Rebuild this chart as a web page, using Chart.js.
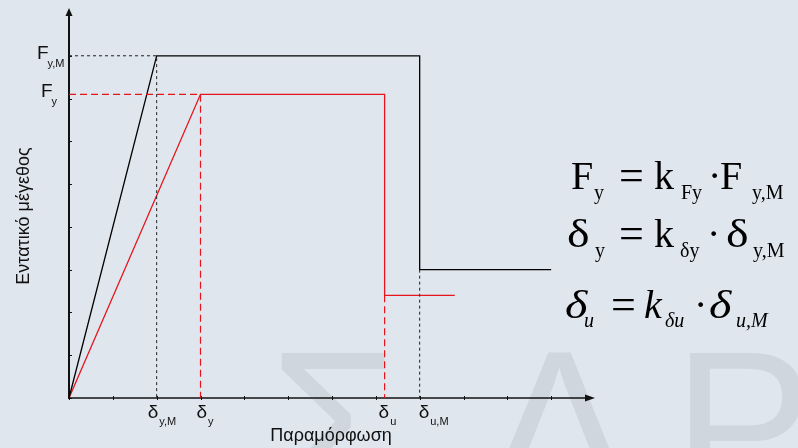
<!DOCTYPE html>
<html>
<head>
<meta charset="utf-8">
<script src="https://cdn.jsdelivr.net/npm/chart.js@4/dist/chart.umd.min.js"></script>
<style>
  html, body { margin: 0; padding: 0; background: #dfe6ed; }
  #wrap { width: 798px; height: 448px; }
</style>
</head>
<body>
<div id="wrap"><canvas id="chart" width="798" height="448"></canvas></div>
<script>
// ---- Data ----
const xMin = 0, xMax = 12;   // Παραμόρφωση (arrow tip at xMax)
const yMin = 0, yMax = 9;    // Εντατικό μέγεθος (arrow tip at yMax)
const xTickValues = [0, 1, 2, 3, 4, 5, 6, 7, 8, 9, 10, 11];
const yTickValues = [0, 1, 2, 3, 4, 5, 6, 7, 8];

// black: model curve (F_y,M / δ_y,M / δ_u,M)
const modelX = [0, 2, 8, 8, 11];
const modelY = [0, 8, 8, 3, 3];
// red: reduced curve (F_y / δ_y / δ_u)
const designX = [0, 3, 7.2, 7.2, 8.8];
const designY = [0, 7.1, 7.1, 2.4, 2.4];

// axis marks
const xMarkValues = [2, 3, 7.2, 8];
const xMarkSubs = ['y,M', 'y', 'u', 'u,M'];
const yMarkValues = [8, 7.1];
const yMarkSubs = ['y,M', 'y'];

// label placement (pixels, layout only)
const xMarkShift = [-9, -4, -6, -1];
const yMarkLeft = [-32, -28];

const BLACK = '#000000';
const RED = '#e8141c';
const SANS = '"Liberation Sans", Arial, sans-serif';
const SERIF = '"Liberation Serif", "Times New Roman", serif';

const pts = (xs, ys) => xs.map((x, i) => ({ x: x, y: ys[i] }));

// ---- Helper lines (dotted/dashed) built from the data ----
const guideBlackA = [{ x: 0, y: modelY[1] }, { x: modelX[1], y: modelY[1] }, { x: modelX[1], y: 0 }];
const guideBlackB = [{ x: modelX[3], y: modelY[3] }, { x: modelX[3], y: 0 }];
const guideRedA = [{ x: 0, y: designY[1] }, { x: designX[1], y: designY[1] }, { x: designX[1], y: 0 }];
const guideRedB = [{ x: designX[3], y: designY[3] }, { x: designX[3], y: 0 }];

function lineSet(data, color, width, dash) {
  return {
    data: data,
    borderColor: color,
    borderWidth: width,
    borderDash: dash || [],
    pointRadius: 0,
    tension: 0,
    fill: false,
    clip: false
  };
}

// ---- Equations (text, x, baseline, size, italic, xScale) ----
const eqPieces = [
  ['F', 571, 189, 40, false, 1], ['y', 594, 199, 20, false, 1], ['=', 619, 190, 44, false, 1],
  ['k', 654, 189, 40, false, 1], ['Fy', 681, 199, 20, false, 1], ['·', 708, 189, 40, false, 1],
  ['F', 720, 189, 40, false, 1], ['y,M', 752, 199, 20, false, 1],

  ['δ', 567, 247, 40, false, 1.2], ['y', 595, 257, 20, false, 1], ['=', 619, 248, 44, false, 1],
  ['k', 654, 247, 40, false, 1], ['δy', 680, 257, 20, false, 1], ['·', 707, 247, 40, false, 1],
  ['δ', 726, 247, 40, false, 1.2], ['y,M', 753, 257, 20, false, 1],

  ['δ', 565, 318, 40, true, 1.2], ['u', 584, 327, 20, true, 1], ['=', 611, 319, 44, false, 1],
  ['k', 644, 318, 40, true, 1], ['δu', 665, 327, 20, true, 1], ['·', 694, 318, 40, false, 1],
  ['δ', 709, 318, 40, true, 1.2], ['u,M', 736, 327, 20, true, 1]
];

// ---- Plugin: background, axes, labels ----
const diagramPlugin = {
  id: 'diagram',
  beforeDraw(chart) {
    const ctx = chart.ctx;
    ctx.save();
    ctx.fillStyle = '#dfe6ed';
    ctx.fillRect(0, 0, chart.width, chart.height);
    // watermark
    ctx.fillStyle = '#d0d6de';
    ctx.font = '210px ' + SANS;
    ctx.textBaseline = 'alphabetic';
    ctx.fillText('Σ', 269, 497);
    ctx.fillText('Δ', 489, 497);
    ctx.fillText('Ρ', 673, 497);
    ctx.restore();
  },
  beforeDatasetsDraw(chart) {
    const ctx = chart.ctx;
    const sx = chart.scales.x, sy = chart.scales.y;
    const x0 = sx.getPixelForValue(0), y0 = sy.getPixelForValue(0);
    const xEnd = sx.getPixelForValue(xMax), yEnd = sy.getPixelForValue(yMax);
    ctx.save();
    ctx.strokeStyle = '#111';
    ctx.fillStyle = '#111';
    // y axis
    ctx.lineWidth = 2;
    ctx.beginPath(); ctx.moveTo(x0, y0 + 1); ctx.lineTo(x0, yEnd); ctx.stroke();
    ctx.beginPath(); ctx.moveTo(x0, yEnd - 5); ctx.lineTo(x0 - 3.5, yEnd + 3); ctx.lineTo(x0 + 3.5, yEnd + 3); ctx.closePath(); ctx.fill();
    // x axis
    ctx.lineWidth = 1.6;
    ctx.beginPath(); ctx.moveTo(x0, y0); ctx.lineTo(xEnd - 6, y0); ctx.stroke();
    ctx.beginPath(); ctx.moveTo(xEnd, y0); ctx.lineTo(xEnd - 10, y0 - 3.5); ctx.lineTo(xEnd - 10, y0 + 3.5); ctx.closePath(); ctx.fill();
    // ticks
    ctx.lineWidth = 1;
    xTickValues.forEach(v => {
      const px = Math.round(sx.getPixelForValue(v)) + 0.5;
      ctx.beginPath(); ctx.moveTo(px, y0 - 2); ctx.lineTo(px, y0 + 2); ctx.stroke();
    });
    yTickValues.forEach(v => {
      const py = Math.round(sy.getPixelForValue(v)) + 0.5;
      ctx.beginPath(); ctx.moveTo(x0 - 1, py); ctx.lineTo(x0 + 3, py); ctx.stroke();
    });
    ctx.restore();
  },
  afterDatasetsDraw(chart) {
    const ctx = chart.ctx;
    const sx = chart.scales.x, sy = chart.scales.y;
    const x0 = sx.getPixelForValue(0), y0 = sy.getPixelForValue(0);
    ctx.save();
    ctx.fillStyle = '#111';
    ctx.textBaseline = 'alphabetic';
    ctx.textAlign = 'left';

    // x marks δ
    xMarkValues.forEach((v, i) => {
      const px = sx.getPixelForValue(v) + xMarkShift[i];
      ctx.font = '19px ' + SANS;
      ctx.fillText('δ', px, y0 + 20);
      const w = ctx.measureText('δ').width;
      ctx.font = '11px ' + SANS;
      ctx.fillText(xMarkSubs[i], px + w + 1, y0 + 27);
    });

    // y marks F
    yMarkValues.forEach((v, i) => {
      const py = sy.getPixelForValue(v);
      const left = x0 + yMarkLeft[i];
      ctx.font = '19px ' + SANS;
      ctx.fillText('F', left, py + 3);
      const fw = ctx.measureText('F').width;
      ctx.font = '11px ' + SANS;
      ctx.fillText(yMarkSubs[i], left + fw - 1, py + 11);
    });

    // axis titles
    ctx.font = '18px ' + SANS;
    ctx.textAlign = 'center';
    ctx.fillText('Παραμόρφωση', 331, 441);
    ctx.save();
    ctx.translate(29, 216);
    ctx.rotate(-Math.PI / 2);
    ctx.fillText('Εντατικό μέγεθος', 0, 0);
    ctx.restore();

    // equations
    ctx.textAlign = 'left';
    ctx.fillStyle = '#000';
    eqPieces.forEach(p => {
      ctx.font = (p[4] ? 'italic ' : '') + p[3] + 'px ' + SERIF;
      ctx.save();
      ctx.translate(p[1], p[2]);
      ctx.scale(p[5], 1);
      ctx.fillText(p[0], 0, 0);
      ctx.restore();
    });
    ctx.restore();
  }
};

new Chart(document.getElementById('chart'), {
  type: 'line',
  data: {
    datasets: [
      lineSet(guideBlackA, '#222', 1, [3, 3]),
      lineSet(guideBlackB, '#222', 1, [3, 3]),
      lineSet(guideRedA, RED, 1.2, [7, 4]),
      lineSet(guideRedB, RED, 1.2, [7, 4]),
      lineSet(pts(modelX, modelY), BLACK, 1.3),
      lineSet(pts(designX, designY), RED, 1.3)
    ]
  },
  options: {
    responsive: false,
    animation: false,
    devicePixelRatio: 1,
    layout: { padding: { left: 69, right: 203, top: 13, bottom: 50 } },
    plugins: { legend: { display: false }, tooltip: { enabled: false } },
    scales: {
      x: { type: 'linear', min: xMin, max: xMax, display: false },
      y: { type: 'linear', min: yMin, max: yMax, display: false }
    }
  },
  plugins: [diagramPlugin]
});
</script>
</body>
</html>
